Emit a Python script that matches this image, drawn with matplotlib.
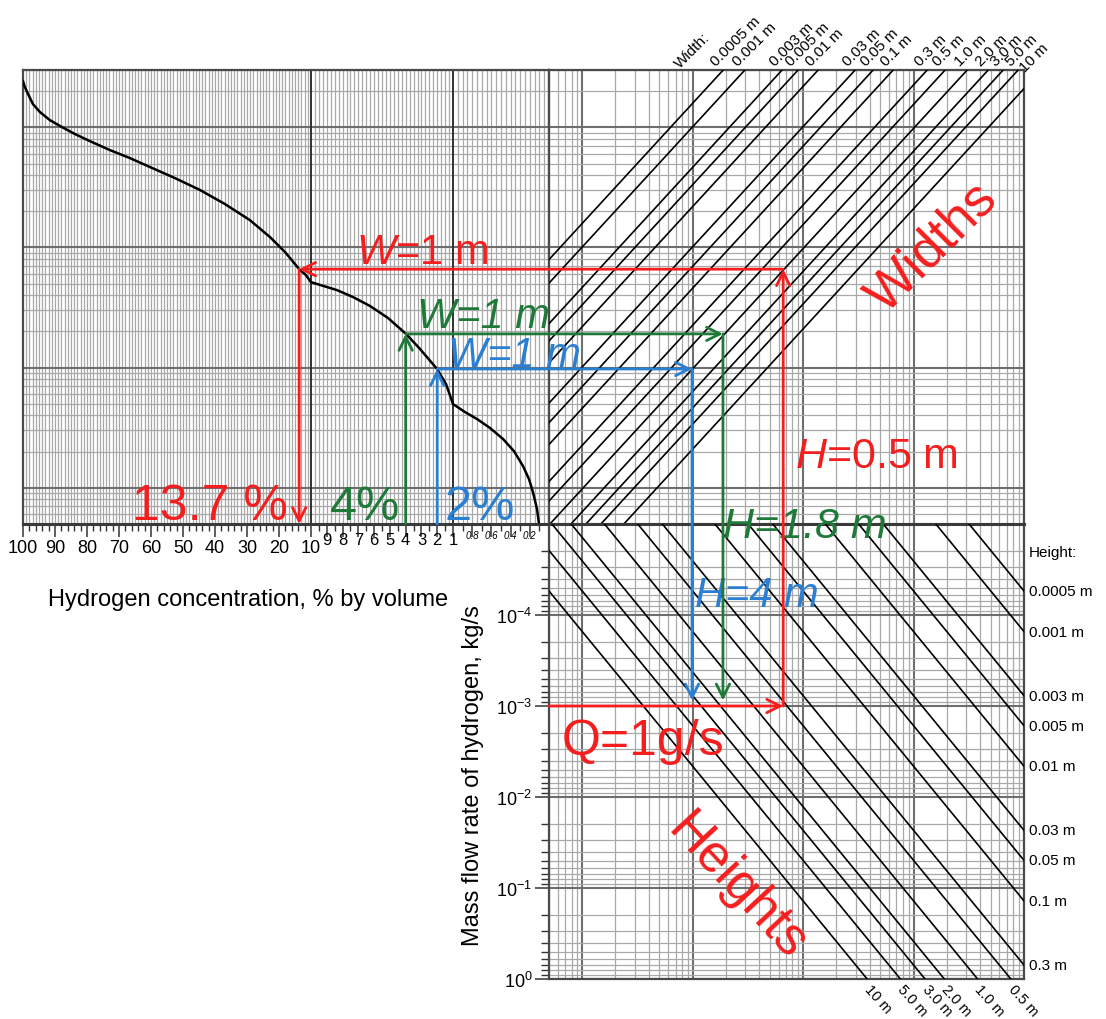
import numpy as np
import matplotlib
matplotlib.use("Agg")
import matplotlib.pyplot as plt
from matplotlib.ticker import FixedLocator, NullFormatter, LogLocator, FixedFormatter
from matplotlib.patches import ConnectionPatch

plt.rcParams['font.family'] = ['Liberation Sans', 'DejaVu Sans']
plt.rcParams['mathtext.fontset'] = 'custom'
plt.rcParams['mathtext.rm'] = 'Liberation Sans'
plt.rcParams['mathtext.it'] = 'Liberation Sans:italic'
plt.rcParams['mathtext.bf'] = 'Liberation Sans:bold'

# ---------------- DATA ----------------
# concentration curve of the left panel: % by volume vs. nomogram ordinate
curve_conc = [100, 99.4, 98.4, 96.9, 94.7, 91.6, 87.8, 83.75, 79.1, 72.8, 66.6,
              60.3, 52.5, 44.7, 36.9, 29.1, 22.8, 18.1, 13.7, 11.6, 10.0,
              9.18, 8.35, 7.34, 6.26, 5.12, 3.98, 3.09, 2.01, 1.44, 1.0,
              0.875, 0.75, 0.615, 0.479, 0.365, 0.271, 0.208, 0.167, 0.125, 0.104]
curve_ord = [2425, 2160, 1889, 1560, 1340, 1148, 1004, 879, 768, 646, 555,
             467, 378, 301, 230, 169, 122, 91.6, 66.1, 59.0, 51.5,
             47.7, 44.2, 38.7, 32.6, 25.9, 19.1, 14.3, 9.75, 7.3, 4.98,
             4.27, 3.74, 3.15, 2.55, 2.02, 1.52, 1.18, 0.92, 0.667, 0.5]

# width lines (top right): abscissa where each line crosses ordinate = 1
width_labels = ['0.0005 m', '0.001 m', '0.003 m', '0.005 m', '0.01 m', '0.03 m',
                '0.05 m', '0.1 m', '0.3 m', '0.5 m', '1.0 m', '2.0 m', '3.0 m',
                '5.0 m', '10 m']
width_s_at_ord1 = [0.0063, 0.0099, 0.0215, 0.030, 0.0456, 0.0986, 0.1435, 0.218,
                   0.443, 0.644, 1.02, 1.58, 2.16, 2.95, 4.76]

# height lines (bottom right): abscissa where each line reaches Q = 1 kg/s
height_labels = ['0.0005 m', '0.001 m', '0.003 m', '0.005 m', '0.01 m', '0.03 m',
                 '0.05 m', '0.1 m', '0.3 m', '0.5 m', '1.0 m', '2.0 m', '3.0 m',
                 '5.0 m', '10 m']
height_s_at_q1 = [7.6e6, 3.8e6, 1.27e6, 7.6e5, 3.8e5, 1.27e5, 7.6e4, 3.8e4,
                  1.27e4, 7.6e3, 3.8e3, 1.9e3, 1.27e3, 7.6e2, 3.8e2]
height_exponent = 1.48   # log-log slope of the height lines

# axis ticks
conc_labels_a = [100, 90, 80, 70, 60, 50, 40, 30, 20, 10]
conc_labels_b = [9, 8, 7, 6, 5, 4, 3, 2, 1]
conc_labels_c = [0.8, 0.6, 0.4, 0.2]
q_ticks = [1e-5, 1e-4, 1e-3, 1e-2, 1e-1, 1e0]
q_tick_labels = ['', '$10^{-4}$', '$10^{-3}$', '$10^{-2}$', '$10^{-1}$', '$10^{0}$']

# worked examples (red, green, blue)
ex_conc = [13.7, 4.0, 2.0]
ex_ord = [66.0, 19.1, 9.75]
ex_abs = [66.0, 18.8, 9.86]
ex_q = [1e-3, 1e-3, 1e-3]

RED, GREEN, BLUE = '#f41e1e', '#1f7a3a', '#2b7fd2'
GRID_MIN, GRID_MAJ, SPINE = '#a9a9a9', '#6e6e6e', '#4a4a4a'

# ---------------- FIGURE ----------------
FW, FH = 1106, 1020
fig = plt.figure(figsize=(FW / 100, FH / 100), dpi=100)


def px_axes(x0, y0, x1, y1):
    return fig.add_axes([x0 / FW, 1 - y1 / FH, (x1 - x0) / FW, (y1 - y0) / FH])


XL0, XM, XR = 23, 549, 1024
YT, YM, YB = 71, 525, 980
axL = px_axes(XL0, YT, XM, YM)
axTR = px_axes(XM, YT, XR, YM)
axBR = px_axes(XM, YM, XR, YB)

# piecewise-linear concentration scale: [0,1], [1,10], [10,100]
SEG = (96.0, 142.0, 288.0)


def conc_fwd(c):
    c = np.asarray(c, dtype=float)
    a, b, d = SEG
    return np.where(c <= 1, c * a,
                    np.where(c <= 10, a + (c - 1) / 9 * b, a + b + (c - 10) / 90 * d))


def conc_inv(u):
    u = np.asarray(u, dtype=float)
    a, b, d = SEG
    return np.where(u <= a, u / a,
                    np.where(u <= a + b, 1 + (u - a) / b * 9, 10 + (u - a - b) / d * 90))


axL.set_xscale('function', functions=(conc_fwd, conc_inv))
axL.set_xlim(100, 0)
axL.set_yscale('log')
axL.set_ylim(0.5, 3000)

for ax in (axTR, axBR):
    ax.set_xscale('log')
    ax.set_xlim(0.5, 1e4)
axTR.set_yscale('log')
axTR.set_ylim(0.5, 3000)
axBR.set_yscale('log')
axBR.set_ylim(1.0, 1e-5)

# log grids
for ax, axes_list in ((axL, ('y',)), (axTR, ('x', 'y')), (axBR, ('x', 'y'))):
    for a in axes_list:
        axis = ax.yaxis if a == 'y' else ax.xaxis
        if not (ax is axBR and a == 'y'):
            axis.set_major_locator(LogLocator(base=10, numticks=30))
        axis.set_minor_locator(LogLocator(base=10, subs=np.arange(2, 10), numticks=30))
        ax.grid(True, which='major', axis=a, color=GRID_MAJ, lw=1.5, zorder=0)
        ax.grid(True, which='minor', axis=a, color=GRID_MIN, lw=0.9, zorder=0)
    ax.set_axisbelow(True)

# left panel vertical grid
grid_c = (list(np.arange(0.05, 1.0, 0.05)) + list(np.arange(1.25, 10, 0.25))
          + list(np.arange(11, 100, 1)))
for v in grid_c:
    axL.axvline(v, color=GRID_MIN, lw=0.9, zorder=0)
for v in (1, 10):
    axL.axvline(v, color='#303030', lw=1.4, zorder=1)

# left panel ticks
axL.xaxis.set_major_locator(FixedLocator(conc_labels_a + conc_labels_b + conc_labels_c))
minor_c = ([v for v in range(12, 100, 2) if v % 10] +
           [v + 0.5 for v in range(1, 10)] + [0.1, 0.3, 0.5, 0.7, 0.9])
axL.xaxis.set_minor_locator(FixedLocator(minor_c))
axL.xaxis.set_major_formatter(NullFormatter())
axL.xaxis.set_minor_formatter(NullFormatter())
axL.tick_params(axis='x', which='major', direction='out', length=9, width=1.1,
                color='#333', top=False)
axL.tick_params(axis='x', which='minor', direction='out', length=5, width=1.0,
                color='#333', top=False)
axL.tick_params(axis='y', which='both', left=False, labelleft=False)

for ax in (axTR, axBR):
    ax.tick_params(axis='x', which='both', bottom=False, top=False, labelbottom=False)
axTR.tick_params(axis='y', which='both', left=False, labelleft=False)

axBR.yaxis.set_major_locator(FixedLocator(q_ticks))
axBR.yaxis.set_major_formatter(FixedFormatter(q_tick_labels))
axBR.yaxis.set_minor_formatter(NullFormatter())
axBR.tick_params(axis='y', which='major', direction='out', length=10, width=1.1,
                 color='#333', labelsize=13, pad=2)
axBR.tick_params(axis='y', which='minor', direction='out', length=6, width=1.0,
                 color='#333')

for ax in (axL, axTR, axBR):
    for sp in ax.spines.values():
        sp.set_color(SPINE)
        sp.set_linewidth(1.6)
for sp in (axL.spines['bottom'], axTR.spines['bottom'], axBR.spines['top']):
    sp.set_color('#3a3a3a')
    sp.set_linewidth(2.2)

# tick labels of the concentration axis
for c in conc_labels_a:
    axL.annotate(f'{c:g}', xy=(c, 0), xycoords=('data', 'axes fraction'),
                 xytext=(0, -24), textcoords='offset pixels', ha='center',
                 va='center', fontsize=13)
for c in conc_labels_b:
    axL.annotate(f'{c:g}', xy=(c, 0), xycoords=('data', 'axes fraction'),
                 xytext=(0, -16), textcoords='offset pixels', ha='center',
                 va='center', fontsize=12)
for c in conc_labels_c:
    axL.annotate(f'{c:g}', xy=(c, 0), xycoords=('data', 'axes fraction'),
                 xytext=(0, -11), textcoords='offset pixels', ha='center',
                 va='center', fontsize=7, style='italic')

# ---------------- nomogram curves ----------------
axL.plot(curve_conc, curve_ord, color='k', lw=1.8, zorder=5,
         solid_joinstyle='round')

rlo, rhi = axTR.get_ylim()
slo, shi = axTR.get_xlim()
for s1, lab in zip(width_s_at_ord1, width_labels):
    r = np.array([rlo, rhi])
    axTR.plot(s1 * r, r, color='k', lw=1.2, zorder=4)
    if s1 * rhi <= shi:
        xy, off = (s1 * rhi, rhi), (-5, 2)
    else:
        xy, off = (shi, rhi), (3, -4)
    axTR.annotate(lab, xy=xy, xycoords='data', xytext=off,
                  textcoords='offset pixels', rotation=45, rotation_mode='anchor',
                  ha='left', va='bottom', fontsize=11, annotation_clip=False)
axTR.annotate('Width:', xy=(0.28, 1.0), xycoords='axes fraction', xytext=(0, 0),
              textcoords='offset pixels', rotation=45, rotation_mode='anchor',
              ha='left', va='bottom', fontsize=11, annotation_clip=False)

qlo, qhi = 1e-5, 1.0
for sq, lab in zip(height_s_at_q1, height_labels):
    q = np.array([qlo, qhi])
    axBR.plot(sq * q ** (1 / height_exponent), q, color='k', lw=1.2, zorder=4)
    if sq > shi:
        q_r = (shi / sq) ** height_exponent
        axBR.annotate(lab, xy=(shi, q_r), xycoords='data', xytext=(5, 0),
                      textcoords='offset pixels', ha='left', va='center',
                      fontsize=11, annotation_clip=False)
    else:
        axBR.annotate(lab, xy=(sq, qhi), xycoords='data', xytext=(5, -3),
                      textcoords='offset pixels', rotation=-48,
                      rotation_mode='anchor', ha='left', va='top', fontsize=10.5,
                      annotation_clip=False)
axBR.annotate('Height:', xy=(1.0, 1.0), xycoords='axes fraction', xytext=(5, -28),
              textcoords='offset pixels', ha='left', va='center', fontsize=11,
              annotation_clip=False)

# ---------------- worked examples (arrows) ----------------


def arrow(axA, pA, axB, pB, color, shrinkB=0):
    con = ConnectionPatch(xyA=pA, coordsA=axA.transData, xyB=pB, coordsB=axB.transData,
                          arrowstyle='->', color=color, lw=2.0, mutation_scale=24,
                          shrinkA=0, shrinkB=shrinkB, zorder=10)
    fig.add_artist(con)


c, r, s, q = ex_conc[0], ex_ord[0], ex_abs[0], ex_q[0]
arrow(axBR, (slo, q), axBR, (s, q), RED)
arrow(axBR, (s, q), axTR, (s, r), RED)
arrow(axTR, (s, r), axL, (c, r), RED)
arrow(axL, (c, r), axL, (c, rlo), RED)

for i, col in ((1, GREEN), (2, BLUE)):
    c, r, s, q = ex_conc[i], ex_ord[i], ex_abs[i], ex_q[i]
    arrow(axL, (c, rlo), axL, (c, r), col)
    arrow(axL, (c, r), axTR, (s, r), col)
    arrow(axTR, (s, r), axBR, (s, q), col, shrinkB=4)

# ---------------- texts ----------------


def ftext(x, y, txt, **kw):
    fig.text(x / FW, 1 - y / FH, txt, **kw)


ftext(422, 264, r'$\mathit{W}$=1 m', color=RED, fontsize=30, ha='center', va='baseline')
ftext(483, 328, 'W=1 m', color=GREEN, fontsize=30, ha='center', va='baseline', style='italic')
ftext(514, 367, 'W=1 m', color=BLUE, fontsize=30, ha='center', va='baseline', style='italic')
ftext(876, 468, r'$\mathit{H}$=0.5 m', color=RED, fontsize=31, ha='center', va='baseline')
ftext(805, 538, 'H=1.8 m', color=GREEN, fontsize=31, ha='center', va='baseline', style='italic')
ftext(757, 607, 'H=4 m', color=BLUE, fontsize=30, ha='center', va='baseline', style='italic')
ftext(643, 755, 'Q=1g/s', color=RED, fontsize=36, ha='center', va='baseline')
ftext(210, 520, '13.7 %', color=RED, fontsize=36, ha='center', va='baseline')
ftext(365, 520, '4%', color=GREEN, fontsize=35, ha='center', va='baseline')
ftext(480, 520, '2%', color=BLUE, fontsize=35, ha='center', va='baseline')
ftext(932, 248, 'Widths', color=RED, fontsize=38, ha='center', va='center', rotation=45)
ftext(737, 887, 'Heights', color=RED, fontsize=38, ha='center', va='center', rotation=-47)

ftext(248, 600, 'Hydrogen concentration, % by volume', fontsize=17, ha='center', va='center')
ftext(473, 776, 'Mass flow rate of hydrogen, kg/s', fontsize=17, ha='center',
      va='center', rotation=90)

fig.savefig('out.png', dpi=100)
